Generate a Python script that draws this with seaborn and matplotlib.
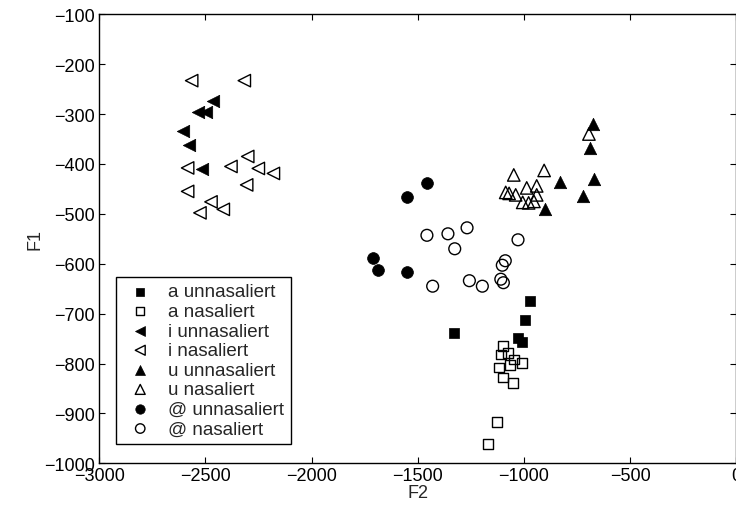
import numpy as np
import pandas as pd
import matplotlib
matplotlib.use("Agg")
import matplotlib.pyplot as plt
import seaborn as sns

# ---- data (F2 = x, F1 = y) ----
a_un_x = [-973, -996, -1329, -1027, -1008]
a_un_y = [-675, -713, -739, -748, -756]

a_na_x = [-1097, -1076, -1109, -1047, -1011, -1066, -1117, -1097, -1053, -1128, -1168]
a_na_y = [-765, -779, -782, -792, -799, -803, -808, -828, -839, -918, -962]

i_un_x = [-2463, -2497, -2537, -2604, -2576, -2515]
i_un_y = [-273, -295, -296, -334, -363, -411]

i_na_x = [-2565, -2317, -2301, -2584, -2380, -2251, -2180, -2306, -2584, -2474, -2416, -2526]
i_na_y = [-233, -233, -385, -408, -405, -409, -419, -442, -455, -476, -491, -498]

u_un_x = [-676, -687, -670, -829, -723, -902]
u_un_y = [-320, -368, -430, -437, -465, -490]

u_na_x = [-694, -905, -1048, -987, -940, -1086, -1070, -1039, -940, -1006, -978, -953]
u_na_y = [-340, -413, -422, -448, -444, -457, -459, -462, -462, -477, -478, -475]

e_un_x = [-1457, -1549, -1712, -1686, -1552]
e_un_y = [-438, -466, -589, -612, -617]

e_na_x = [-1457, -1358, -1268, -1326, -1028, -1088, -1102, -1430, -1257, -1196, -1109, -1097]
e_na_y = [-543, -540, -528, -570, -552, -594, -603, -645, -634, -645, -631, -638]

labels = ["a unnasaliert", "a nasaliert", "i unnasaliert", "i nasaliert",
          "u unnasaliert", "u nasaliert", "@ unnasaliert", "@ nasaliert"]
xs_all = [a_un_x, a_na_x, i_un_x, i_na_x, u_un_x, u_na_x, e_un_x, e_na_x]
ys_all = [a_un_y, a_na_y, i_un_y, i_na_y, u_un_y, u_na_y, e_un_y, e_na_y]
markers = ['s', 's', '<', '<', '^', '^', 'o', 'o']
filled = [True, False, True, False, True, False, True, False]
sizes = [55, 50, 80, 80, 80, 80, 72, 72]

x_ticks = [-3000, -2500, -2000, -1500, -1000, -500, 0]
y_ticks = [-1000, -900, -800, -700, -600, -500, -400, -300, -200, -100]

sns.set_theme(style="white")
plt.rcParams['font.family'] = ['Liberation Sans', 'DejaVu Sans']
plt.rcParams['axes.unicode_minus'] = True

fig = plt.figure(figsize=(7.36, 5.06), dpi=100)
ax = fig.add_axes([0.1349, 0.0824, 0.8655, 0.8874])

for lab, xs, ys, m, f, s in zip(labels, xs_all, ys_all, markers, filled, sizes):
    df = pd.DataFrame({"F2": xs, "F1": ys})
    sns.scatterplot(data=df, x="F2", y="F1", marker=m, s=s, color="black",
                    facecolor="black" if f else "none", edgecolor="black",
                    linewidth=0.5 if f else 1.0, label=lab, ax=ax)

ax.set_xlim(-3000, 0)
ax.set_ylim(-1000, -100)
ax.set_xticks(x_ticks)
ax.set_yticks(y_ticks)
ax.set_xlabel("F2", fontsize=13, labelpad=0)
ax.set_ylabel("F1", fontsize=13, labelpad=0.5)
ax.tick_params(direction="in", length=4, width=0.8, top=True, right=True,
               bottom=True, left=True, labelsize=13, pad=3, colors="black")
for sp in ax.spines.values():
    sp.set_color("black")
    sp.set_linewidth(1.0)
    sp.set_visible(True)

leg = ax.legend(loc="lower left", bbox_to_anchor=(0.026, 0.043), borderaxespad=0,
                fontsize=13.5, frameon=True, fancybox=False, framealpha=1,
                edgecolor="black", markerscale=0.8, labelspacing=0.13,
                handlelength=1.9, handletextpad=0.55, borderpad=0.35)
leg.get_frame().set_linewidth(1.0)

fig.savefig("out.png", dpi=100)
